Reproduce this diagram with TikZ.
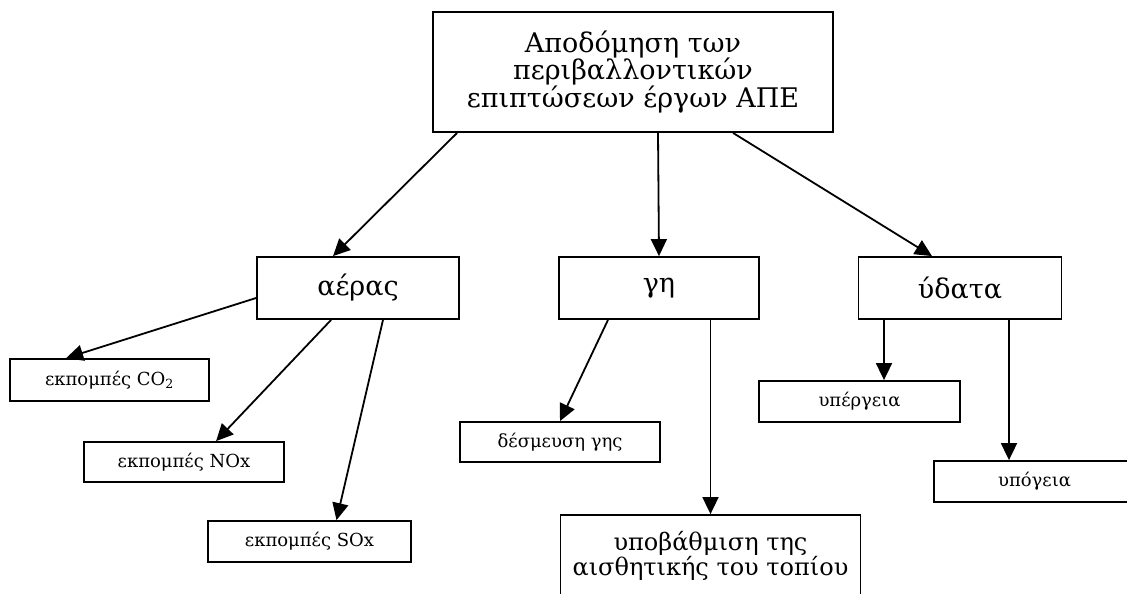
\documentclass[tikz,border=0pt]{standalone}
\usepackage{fontspec}
\setmainfont{DejaVu Serif}
\usetikzlibrary{arrows.meta}

\begin{document}
\begin{tikzpicture}[x=1pt,y=-1pt,
                box/.style={draw=black,line width=1.8pt,inner sep=0pt,align=center},
                link/.style={black,line width=1.8pt,-{Triangle[width=16pt,length=17pt]}},
                big/.style={font=\fontsize{27}{27.5}\selectfont},
                mid/.style={font=\fontsize{24}{25}\selectfont},
                small/.style={font=\fontsize{18}{20}\selectfont}]
                \useasboundingbox (0,0) rectangle (1127,594);
                \clip (0,0) rectangle (1127,594);
                % top box
                \node [box,big,minimum width=400pt,minimum height=120pt] (apodomisi) at (633,72)
                    {Αποδόμηση των\\περιβαλλοντικών\\επιπτώσεων έργων ΑΠΕ};
                % second row
                \node [box,big,minimum width=202pt,minimum height=62pt] (aeras) at (358,288) {αέρας};
                \node [box,big,minimum width=200pt,minimum height=62pt] (gi) at (659,288) {γη};
                \node [box,big,minimum width=203pt,minimum height=62pt] (ydata) at (960,288) {ύδατα};
                % under aeras
                \node [box,small,minimum width=199pt,minimum height=42pt] (co) at (109.5,380) {εκπομπές CO\textsubscript{2}};
                \node [box,small,minimum width=200pt,minimum height=40pt] (nox) at (184,462) {εκπομπές NOx};
                \node [box,small,minimum width=203pt,minimum height=41pt] (sox) at (309.5,541.5) {εκπομπές SOx};
                % under gi
                \node [box,small,minimum width=200pt,minimum height=40pt] (desmeusi) at (560,442) {δέσμευση γης};
                \node [box,mid,minimum width=300pt,minimum height=82pt] (ypovathmisi) at (710.5,556)
                    {υποβάθμιση της\\αισθητικής του τοπίου};
                % under ydata
                \node [box,small,minimum width=201pt,minimum height=41pt] (ypergeia) at (859.5,401.5) {υπέργεια};
                \node [box,small,minimum width=201pt,minimum height=41pt] (ypogeia) at (1034.5,481.5) {υπόγεια};
                % arrows
                \draw [link] ([xshift=25pt]apodomisi.south west) -- ([xshift=-25pt]aeras.north);
                \draw [link] ([xshift=25pt]apodomisi.south) -- (gi.north);
                \draw [link] ([xshift=100pt]apodomisi.south) -- ([xshift=-28pt]ydata.north);
                \draw [link] ([yshift=-10pt]aeras.west) -- ([xshift=57pt]co.north west);
                \draw [link] ([xshift=75pt]aeras.south west) -- ([xshift=133pt]nox.north west);
                \draw [link] ([xshift=25pt]aeras.south) -- ([xshift=27pt]sox.north);
                \draw [link] ([xshift=-51pt]gi.south) -- (desmeusi.north);
                \draw [link] (ypovathmisi.north |- gi.south) -- (ypovathmisi.north);
                \draw [link] ([xshift=-76pt]ydata.south) -- ([xshift=24.5pt]ypergeia.north);
                \draw [link] ([xshift=49pt]ydata.south) -- ([xshift=-25.5pt]ypogeia.north);
\end{tikzpicture}
\end{document}
